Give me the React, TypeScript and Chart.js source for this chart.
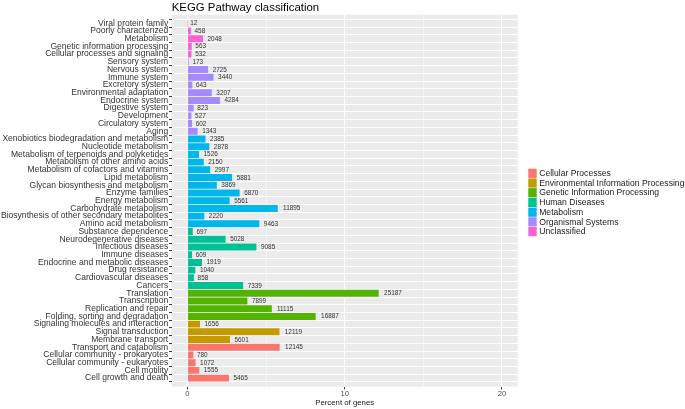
import React, { useEffect, useRef } from 'react';
import { Chart, registerables } from 'chart.js';

Chart.register(...registerables);

const pathways = [
  'Viral protein family', 'Poorly characterized', 'Metabolism', 'Genetic information processing', 'Cellular processes and signaling',
  'Sensory system', 'Nervous system', 'Immune system', 'Excretory system', 'Environmental adaptation', 'Endocrine system',
  'Digestive system', 'Development', 'Circulatory system', 'Aging',
  'Xenobiotics biodegradation and metabolism', 'Nucleotide metabolism', 'Metabolism of terpenoids and polyketides',
  'Metabolism of other amino acids', 'Metabolism of cofactors and vitamins', 'Lipid metabolism',
  'Glycan biosynthesis and metabolism', 'Enzyme families', 'Energy metabolism', 'Carbohydrate metabolism',
  'Biosynthesis of other secondary metabolites', 'Amino acid metabolism',
  'Substance dependence', 'Neurodegenerative diseases', 'Infectious diseases', 'Immune diseases',
  'Endocrine and metabolic diseases', 'Drug resistance', 'Cardiovascular diseases', 'Cancers',
  'Translation', 'Transcription', 'Replication and repair', 'Folding, sorting and degradation',
  'Signaling molecules and interaction', 'Signal transduction', 'Membrane transport',
  'Transport and catabolism', 'Cellular community - prokaryotes', 'Cellular community - eukaryotes', 'Cell motility', 'Cell growth and death',
];

const geneCounts = [
  12, 458, 2048, 563, 532,
  173, 2725, 3440, 643, 3207, 4284, 823, 527, 602, 1343,
  2385, 2878, 1526, 2150, 2997, 5881, 3869, 6870, 5561, 11895, 2220, 9463,
  697, 5028, 9085, 609, 1919, 1040, 858, 7339,
  25187, 7899, 11115, 16887,
  1656, 12119, 5601,
  12145, 780, 1072, 1555, 5465,
];

// group index per pathway (index into groupNames)
const pathwayGroup = [
  6, 6, 6, 6, 6,
  5, 5, 5, 5, 5, 5, 5, 5, 5, 5,
  4, 4, 4, 4, 4, 4, 4, 4, 4, 4, 4, 4,
  3, 3, 3, 3, 3, 3, 3, 3,
  2, 2, 2, 2,
  1, 1, 1,
  0, 0, 0, 0, 0,
];

const groupNames = [
  'Cellular Processes', 'Environmental Information Processing', 'Genetic Information Processing',
  'Human Diseases', 'Metabolism', 'Organismal Systems', 'Unclassified',
];
const groupColors = ['#F8766D', '#C49A00', '#53B400', '#00C094', '#00B6EB', '#A58AFF', '#FB61D7'];

const xTickValues = [0, 5, 10, 15, 20];
const xLabelValues = [0, 10, 20];

const FONT = "'Liberation Sans', Arial, sans-serif";

export default function App() {
  const ref = useRef<HTMLCanvasElement | null>(null);

  useEffect(() => {
    const canvas = ref.current;
    if (!canvas) return;
    const total = geneCounts.reduce((a, b) => a + b, 0);
    const points = geneCounts.map((c, i) => ({ x: (c / total) * 100, y: i }));

    const panelBg = {
      id: 'panelBg',
      beforeDraw(chart: any) {
        const { ctx, chartArea } = chart;
        ctx.save();
        ctx.fillStyle = '#EBEBEB';
        ctx.fillRect(chartArea.left, chartArea.top, chartArea.right - chartArea.left, chartArea.bottom - chartArea.top);
        ctx.restore();
      },
    };

    const valueLabels = {
      id: 'valueLabels',
      afterDatasetsDraw(chart: any) {
        const { ctx } = chart;
        const meta = chart.getDatasetMeta(0);
        ctx.save();
        ctx.font = `6.4px ${FONT}`;
        ctx.fillStyle = '#333333';
        ctx.textAlign = 'left';
        ctx.textBaseline = 'middle';
        meta.data.forEach((bar: any, i: number) => {
          const t = String(geneCounts[i]);
          const w = ctx.measureText(t).width;
          ctx.fillText(t, bar.x + 1 + 0.25 * w, bar.y + 0.3);
        });
        ctx.restore();
      },
    };

    const titleLegend = {
      id: 'titleLegend',
      afterDraw(chart: any) {
        const { ctx, chartArea } = chart;
        ctx.save();
        ctx.font = `11.4px ${FONT}`;
        ctx.fillStyle = '#000000';
        ctx.textAlign = 'left';
        ctx.textBaseline = 'alphabetic';
        ctx.fillText('KEGG Pathway classification', chartArea.left, 10.8);

        const keyX = 528.3;
        const top = 173.3;
        const step = 9.72;
        ctx.font = `8.6px ${FONT}`;
        ctx.textBaseline = 'middle';
        groupNames.forEach((name, i) => {
          const cy = top + i * step;
          ctx.fillStyle = groupColors[i];
          ctx.fillRect(keyX, cy - 4.6, 8.4, 9.2);
          ctx.fillStyle = '#1a1a1a';
          ctx.fillText(name, 539.2, cy + 0.3);
        });
        ctx.restore();
      },
    };

    const chart = new Chart(canvas, {
      type: 'bar',
      data: {
        datasets: [
          {
            data: points as any,
            backgroundColor: pathwayGroup.map((g) => groupColors[g]),
            borderWidth: 0,
            categoryPercentage: 1,
            barPercentage: 0.9,
          },
        ],
      },
      options: {
        indexAxis: 'y',
        responsive: false,
        animation: false,
        devicePixelRatio: 1,
        layout: { padding: { left: 0, top: 14.7, right: 167.3, bottom: 0 } },
        plugins: { legend: { display: false }, tooltip: { enabled: false }, title: { display: false } },
        scales: {
          x: {
            type: 'linear',
            position: 'bottom',
            min: -1,
            max: 21,
            bounds: 'data',
            afterBuildTicks: (scale: any) => {
              scale.ticks = xTickValues.map((v) => ({ value: v }));
            },
            afterFit: (scale: any) => {
              scale.height = 22.3;
            },
            border: { display: false },
            grid: {
              color: '#FFFFFF',
              lineWidth: (c: any) => (xLabelValues.includes(c.tick?.value) ? 1.07 : 0.53),
              tickColor: (c: any) => (xLabelValues.includes(c.tick?.value) ? '#333333' : 'rgba(0,0,0,0)'),
              tickLength: 2.7,
              tickWidth: 1,
            },
            ticks: {
              autoSkip: false,
              maxRotation: 0,
              padding: 0,
              color: '#4D4D4D',
              font: { family: FONT, size: 7.6 },
              callback: (v: any) => (xLabelValues.includes(Number(v)) ? String(v) : ''),
            },
            title: {
              display: true,
              text: 'Percent of genes',
              color: '#1a1a1a',
              font: { family: FONT, size: 7.8 },
              padding: { top: 0, bottom: 1.5 },
            },
          },
          y: {
            type: 'linear',
            position: 'left',
            reverse: true,
            min: -0.6,
            max: pathways.length - 1 + 0.6,
            bounds: 'data',
            afterBuildTicks: (scale: any) => {
              scale.ticks = pathways.map((_, i) => ({ value: i }));
            },
            afterFit: (scale: any) => {
              scale.width = 171.7;
            },
            border: { display: false },
            grid: {
              color: '#FFFFFF',
              lineWidth: 1.07,
              tickColor: '#333333',
              tickLength: 2.7,
              tickWidth: 1,
            },
            ticks: {
              autoSkip: false,
              padding: 0.8,
              color: '#333333',
              font: { family: FONT, size: 8.55, lineHeight: 1 },
              callback: (v: any) => pathways[Number(v)] ?? '',
            },
          },
        },
      },
      plugins: [panelBg, valueLabels, titleLegend],
    });

    return () => chart.destroy();
  }, []);

  return (
    <div style={{ position: 'fixed', left: 0, top: 0, width: 685, height: 409, background: '#FFFFFF' }}>
      <canvas ref={ref} width={685} height={409} style={{ width: 685, height: 409, display: 'block' }} />
    </div>
  );
}
